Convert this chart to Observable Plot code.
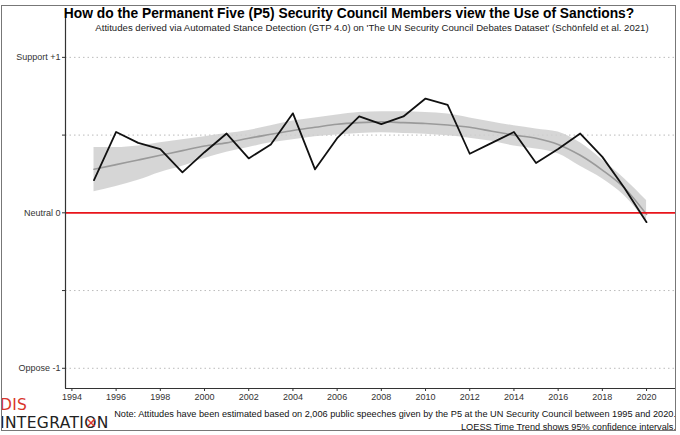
<!DOCTYPE html>
<html>
<head>
<meta charset="utf-8">
<script src="https://cdn.jsdelivr.net/npm/d3@7"></script>
<script src="https://cdn.jsdelivr.net/npm/@observablehq/plot@0.6"></script>
<style>
  html, body { margin: 0; padding: 0; background: #fff; }
  #wrap { position: relative; width: 680px; height: 435px; font-family: "Liberation Sans", Arial, sans-serif; overflow: hidden; }
  #frame { position: absolute; left: 1px; top: 5px; width: 675px; height: 426px; border: 1px solid #777; box-sizing: border-box; pointer-events: none; }
  #chart { position: absolute; left: 0; top: 0; }
  .t { position: absolute; white-space: nowrap; color: #000; line-height: 1; }
  #title { left: 0; width: 698px; top: 7px; text-align: center; font-weight: bold; font-size: 13.8px; }
  #subtitle { left: 0; width: 744px; top: 23px; text-align: center; font-size: 9.6px; color: #222; }
  #note { right: 4px; top: 408px; text-align: right; font-size: 9.2px; line-height: 12.5px; color: #111; }
  #logo1 { left: 0px; top: 398px; font-size: 15.5px; color: #d9362b; letter-spacing: 0.3px; font-family: "DejaVu Sans", sans-serif; }
  #logo2 { left: 0px; top: 416px; font-size: 15.5px; color: #222; letter-spacing: 0.35px; font-family: "DejaVu Sans", sans-serif; }
  .ox { position: relative; display: inline-block; }
  .ox span { position: absolute; left: 1px; top: 0px; color: #d9362b; font-size: 14px; line-height: 1; }
</style>
</head>
<body>
<div id="wrap">
  <div id="chart"></div>
  <div id="title" class="t">How do the Permanent Five (P5) Security Council Members view the Use of Sanctions?</div>
  <div id="subtitle" class="t">Attitudes derived via Automated Stance Detection (GTP 4.0) on 'The UN Security Council Debates Dataset' (Schönfeld et al. 2021)</div>
  <div id="note" class="t">Note: Attitudes have been estimated based on 2,006 public speeches given by the P5 at the UN Security Council between 1995 and 2020.<br>LOESS Time Trend shows 95% confidence intervals.</div>
  <div id="logo1" class="t">DIS</div>
  <div id="logo2" class="t">INTEGRATI<span class="ox">O<span>✕</span></span>N</div>
  <div id="frame"></div>
</div>
<script>
const years = [1995,1996,1997,1998,1999,2000,2001,2002,2003,2004,2005,2006,2007,2008,2009,2010,2011,2012,2013,2014,2015,2016,2017,2018,2019,2020];
const attitude = [0.21,0.52,0.45,0.41,0.26,0.39,0.51,0.35,0.44,0.64,0.28,0.48,0.62,0.57,0.62,0.735,0.695,0.38,0.45,0.52,0.32,0.41,0.51,0.36,0.16,-0.06];
const loessFit = [0.28,0.31,0.34,0.37,0.40,0.43,0.45,0.48,0.505,0.53,0.55,0.57,0.58,0.585,0.58,0.575,0.565,0.55,0.525,0.50,0.48,0.44,0.37,0.275,0.16,-0.01];
const loessUpper = [0.42,0.42,0.43,0.45,0.47,0.49,0.51,0.53,0.56,0.59,0.61,0.63,0.645,0.65,0.65,0.645,0.635,0.61,0.585,0.56,0.54,0.52,0.45,0.34,0.22,0.08];
const loessLower = [0.135,0.17,0.21,0.26,0.30,0.35,0.39,0.42,0.45,0.47,0.49,0.50,0.51,0.515,0.51,0.505,0.495,0.48,0.46,0.43,0.41,0.38,0.30,0.22,0.11,-0.06];
const xTicks = [1994,1996,1998,2000,2002,2004,2006,2008,2010,2012,2014,2016,2018,2020];
const yTicks = [-1,-0.5,0,0.5,1];
const yTickLabels = ["Oppose -1","","Neutral 0","","Support +1"];

const data = years.map((y,i) => ({year: y, value: attitude[i], fit: loessFit[i], lo: loessLower[i], hi: loessUpper[i]}));
const gridY = [-1,-0.5,0.5,1];

const plot = Plot.plot({
  width: 680,
  height: 435,
  marginTop: 18,
  marginBottom: 47,
  marginLeft: 65,
  marginRight: 5,
  style: {fontFamily: "Liberation Sans, Arial, sans-serif", fontSize: "9px", color: "#333", background: "transparent"},
  x: {domain: [1993.71, 2021.31], ticks: xTicks, tickFormat: d => String(d), label: null, tickSize: 3, tickPadding: 2},
  y: {domain: [-1.13, 1.25], ticks: yTicks, tickFormat: (d,i) => yTickLabels[yTicks.indexOf(d)], label: null, tickSize: 3, tickPadding: 2},
  marks: [
    Plot.ruleY(gridY, {stroke: "#bbb", strokeDasharray: "1.5,3", strokeWidth: 1}),
    Plot.areaY(data, {x: "year", y1: "lo", y2: "hi", fill: "#cfcfcf", fillOpacity: 0.85, curve: "monotone-x"}),
    Plot.line(data, {x: "year", y: "fit", stroke: "#9a9a9a", strokeWidth: 1.6, curve: "monotone-x"}),
    Plot.ruleY([0], {stroke: "#e8141b", strokeWidth: 1.8}),
    Plot.line(data, {x: "year", y: "value", stroke: "#111", strokeWidth: 1.8}),
    Plot.axisX({ticks: xTicks, tickFormat: d => String(d), tickSize: 3, tickPadding: 2, label: null, stroke: "#333", fill: "#333"}),
    Plot.axisY({ticks: yTicks, tickFormat: d => yTickLabels[yTicks.indexOf(d)], tickSize: 3, tickPadding: 2, label: null, stroke: "#333", fill: "#333"}),
    Plot.ruleX([1993.71], {stroke: "#333", strokeWidth: 1.2}),
    Plot.ruleY([-1.13], {stroke: "#333", strokeWidth: 1.2})
  ]
});
document.getElementById("chart").appendChild(plot);
</script>
</body>
</html>
